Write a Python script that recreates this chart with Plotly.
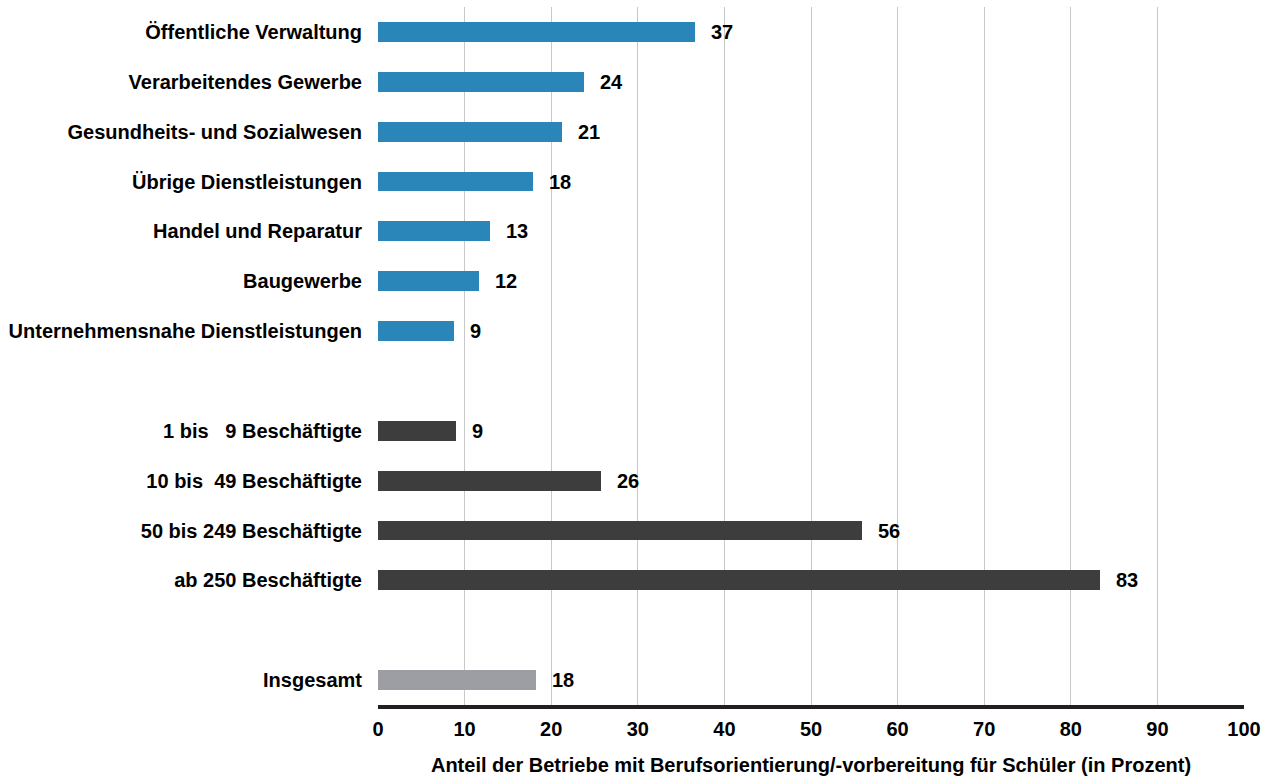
import plotly.graph_objects as go

branch_labels = ["Öffentliche Verwaltung", "Verarbeitendes Gewerbe", "Gesundheits- und Sozialwesen",
                 "Übrige Dienstleistungen", "Handel und Reparatur", "Baugewerbe",
                 "Unternehmensnahe Dienstleistungen"]
branch_values = [37, 24, 21, 18, 13, 12, 9]
branch_bars = [36.6, 23.8, 21.2, 17.9, 12.9, 11.7, 8.8]

size_labels = ["1 bis\u00a0\u00a0\u00a09 Beschäftigte", "10 bis\u00a0\u00a049 Beschäftigte",
               "50 bis 249 Beschäftigte", "ab 250 Beschäftigte"]
size_values = [9, 26, 56, 83]
size_bars = [9.0, 25.8, 55.9, 83.4]

total_label = ["Insgesamt"]
total_values = [18]
total_bars = [18.2]

x_ticks = [0, 10, 20, 30, 40, 50, 60, 70, 80, 90, 100]
x_title = "Anteil der Betriebe mit Berufsorientierung/-vorbereitung für Schüler (in Prozent)"

groups = [
    (branch_labels, branch_bars, branch_values, "#2a86b8"),
    (size_labels, size_bars, size_values, "#3d3d3d"),
    (total_label, total_bars, total_values, "#9d9ea3"),
]

font = "Liberation Sans, Arial, sans-serif"
fs = 20
fig = go.Figure()
tickvals, ticktext = [], []
pos = 0
annotations = []
for labels, bars, vals, color in groups:
    ys = list(range(pos, pos + len(labels)))
    fig.add_trace(go.Bar(y=ys, x=bars, orientation="h", width=0.4,
                         marker=dict(color=color, line=dict(width=0)),
                         hoverinfo="skip", showlegend=False))
    for y, b, v in zip(ys, bars, vals):
        annotations.append(dict(x=b, y=y, xref="x", yref="y", text=f"<b>{v}</b>",
                                showarrow=False, xanchor="left", xshift=14,
                                font=dict(size=fs, color="black", family=font)))
    tickvals += ys
    ticktext += [f"<b>{l}</b>" for l in labels]
    pos += len(labels) + 1

fig.update_layout(
    width=1271, height=778,
    margin=dict(l=378, r=27, t=7, b=73),
    plot_bgcolor="white", paper_bgcolor="white",
    font=dict(family=font, size=fs, color="black"),
    bargap=0,
    annotations=annotations,
    xaxis=dict(range=[0, 100], tickvals=x_ticks, ticktext=[f"<b>{t}</b>" for t in x_ticks],
               showgrid=True, gridcolor="#c8c8c8", gridwidth=1,
               showline=True, linecolor="#231f20", linewidth=4,
               zeroline=False, ticks="", tickfont=dict(size=fs), automargin=False,
               ticklabelstandoff=3,
               title=dict(text=f"<b>{x_title}</b>", font=dict(size=fs), standoff=20)),
    yaxis=dict(range=[pos - 1.5, -0.5], tickvals=tickvals, ticktext=ticktext,
               showgrid=False, zeroline=False, showline=False, ticks="", automargin=False,
               ticklabelstandoff=15, tickfont=dict(size=fs)),
)

fig.write_html("out.html", config={"displayModeBar": False},
               post_script="document.body.style.margin='0';")
